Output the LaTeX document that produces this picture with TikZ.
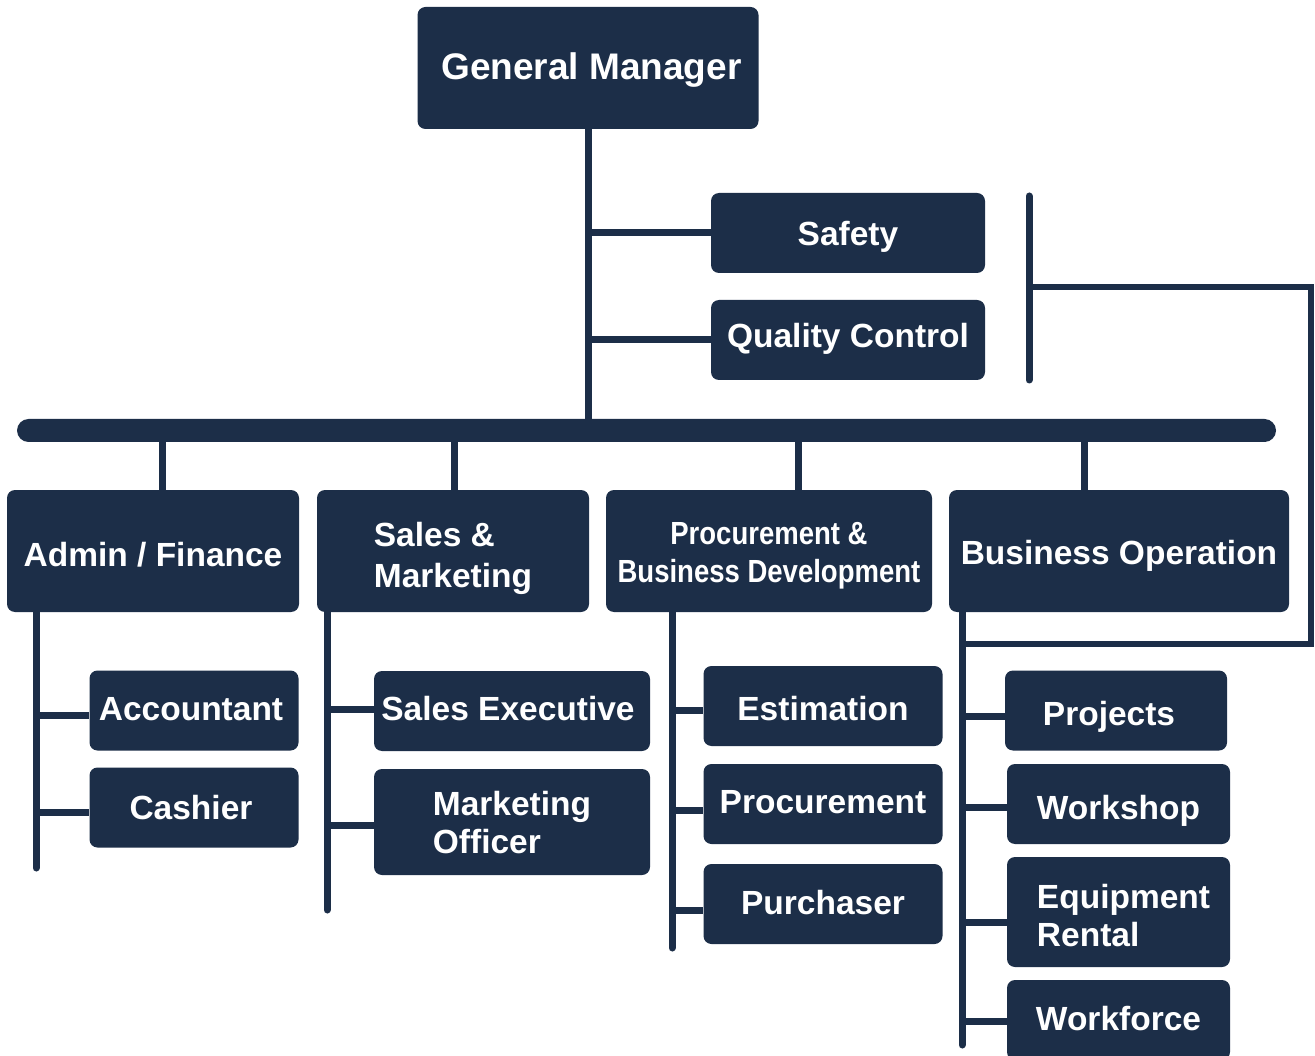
\documentclass[tikz,border=0pt]{standalone}
\usepackage{fontspec}
\setmainfont{Liberation Sans}
\newfontfamily\narrowfont{Liberation Sans}[FakeStretch=0.86]
\definecolor{navy}{RGB}{28,46,72}
\newcommand\leftlines[3]{\vbox{\baselineskip=#1\relax\halign{##\hfil\cr#2\cr#3\cr}}}
\newcommand\centerlines[3]{\vbox{\baselineskip=#1\relax\halign{\hfil##\hfil\cr#2\cr#3\cr}}}
\begin{document}
\begin{tikzpicture}[x=1pt,y=-1pt,
  box/.style={fill=navy, rounded corners=8pt, text=white, inner sep=0pt,
    font=\fontsize{33.5}{38}\selectfont\bfseries},
  tx/.style={text height=#1, text depth=0pt},
  link/.style={draw=navy, line width=7pt},
  trunk/.style={link, line cap=round},
  barbox/.style={fill=navy, rounded corners=11.5pt, inner sep=0pt, minimum width=1259pt, minimum height=23pt}]
\fill[white] (0,0) rectangle (1315,1056);
\useasboundingbox (0,0) rectangle (1315,1056);

% top
\node[box, tx=22.9pt, minimum width=341pt, minimum height=122pt, font=\fontsize{37}{40}\selectfont\bfseries] (gm) at (588,68) {\kern7pt General Manager};
\node[box, tx=25pt, minimum width=274pt, minimum height=80pt] (safety) at (848,233) {Safety};
\node[box, tx=16pt, minimum width=274pt, minimum height=80pt] (qc) at (848,340) {Quality Control};
\node[barbox] (bar) at (646.5,430.5) {};

% departments
\node[box, tx=30pt, minimum width=292pt, minimum height=122pt] (adm) at (153,551) {Admin / Finance};
\node[box, tx=72pt, minimum width=272pt, minimum height=122pt] (sm) at (453,551) {\leftlines{41pt}{Sales \&}{Marketing}};
\node[box, tx=63pt, minimum width=326pt, minimum height=122pt, font=\narrowfont\fontsize{32}{38}\selectfont\bfseries] (pbd) at (769,551) {\centerlines{38pt}{Procurement \&}{Business Development}};
\node[box, tx=27pt, minimum width=340pt, minimum height=122pt] (bo) at (1119,551) {Business Operation};

% admin
\node[box, tx=19pt, minimum width=209pt, minimum height=80pt] (acc) at (194,710.5) {Accountant\kern6pt};
\node[box, tx=23pt, minimum width=209pt, minimum height=80pt] (cash) at (194,807.5) {Cashier\kern6pt};
% sales
\node[box, tx=18pt, minimum width=276pt, minimum height=80pt] (sexec) at (512,711) {Sales Executive\kern8pt};
\node[box, tx=63pt, minimum width=276pt, minimum height=106pt] (mo) at (512,822) {\leftlines{38pt}{Marketing}{Officer}};
% procurement
\node[box, tx=29pt, minimum width=239pt, minimum height=80pt] (est) at (823,706) {Estimation};
\node[box, tx=18pt, minimum width=239pt, minimum height=80pt] (proc) at (823,804) {Procurement};
\node[box, tx=21pt, minimum width=239pt, minimum height=80pt] (pur) at (823,904) {Purchaser};
% business operation
\node[box, tx=30pt, minimum width=222pt, minimum height=80pt] (proj) at (1116,710.5) {Projects\kern14pt};
\node[box, tx=30pt, minimum width=223pt, minimum height=80pt] (work) at (1118.5,804) {Workshop};
\node[box, tx=69pt, minimum width=223pt, minimum height=110pt] (eqr) at (1118.5,912) {\kern10pt\leftlines{38pt}{Equipment}{Rental}};
\node[box, tx=21pt, minimum width=223pt, minimum height=80pt] (wf) at (1118.5,1020) {Workforce};

% top connectors
\draw[link] (gm.south) -- (gm.south |- bar.north);
\draw[link] (gm.south |- safety.west) -- (safety.west);
\draw[link] (gm.south |- qc.west) -- (qc.west);

% drops from bar
\coordinate (d1) at (162,442);
\coordinate (d2) at (454,442);
\coordinate (d3) at (798,442);
\coordinate (d4) at (1084,442);
\draw[link] (d1 |- bar.south) -- (d1 |- adm.north);
\draw[link] (d2 |- bar.south) -- (d2 |- sm.north);
\draw[link] (d3 |- bar.south) -- (d3 |- pbd.north);
\draw[link] (d4 |- bar.south) -- (d4 |- bo.north);

% sub trunks
\coordinate (aEnd) at (36,868);
\coordinate (sEnd) at (327,910);
\coordinate (pEnd) at (672,948);
\coordinate (bEnd) at (962,1045);
\draw[trunk] (aEnd |- adm.south) -- (aEnd);
\draw[trunk] (sEnd |- sm.south) -- (sEnd);
\draw[trunk] (pEnd |- pbd.south) -- (pEnd);
\draw[trunk] (bEnd |- bo.south) -- (bEnd);

% branches
\coordinate (a1) at (36,715);
\coordinate (a2) at (36,812);
\draw[link] (a1) -- (a1 -| acc.west);
\draw[link] (a2) -- (a2 -| cash.west);
\coordinate (s1) at (327,709);
\coordinate (s2) at (327,825);
\draw[link] (s1) -- (s1 -| sexec.west);
\draw[link] (s2) -- (s2 -| mo.west);
\coordinate (p1) at (672,710);
\coordinate (p2) at (672,810);
\coordinate (p3) at (672,910);
\draw[link] (p1) -- (p1 -| est.west);
\draw[link] (p2) -- (p2 -| proc.west);
\draw[link] (p3) -- (p3 -| pur.west);
\coordinate (b1) at (962,716);
\coordinate (b2) at (962,807);
\coordinate (b3) at (962,922);
\coordinate (b4) at (962,1021);
\draw[link] (b1) -- (b1 -| proj.west);
\draw[link] (b2) -- (b2 -| work.west);
\draw[link] (b3) -- (b3 -| eqr.west);
\draw[link] (b4) -- (b4 -| wf.west);

% right bracket
\coordinate (brTop) at (1029,196);
\coordinate (brBot) at (1029,380);
\coordinate (brMid) at (1029,287);
\coordinate (brR1) at (1311,287);
\coordinate (brR2) at (1311,644);
\draw[trunk] (brTop) -- (brBot);
\draw[link, line width=6.5pt, line join=miter] (brMid) -- (brR1) -- (brR2) -- (brR2 -| bEnd);
\end{tikzpicture}
\end{document}
